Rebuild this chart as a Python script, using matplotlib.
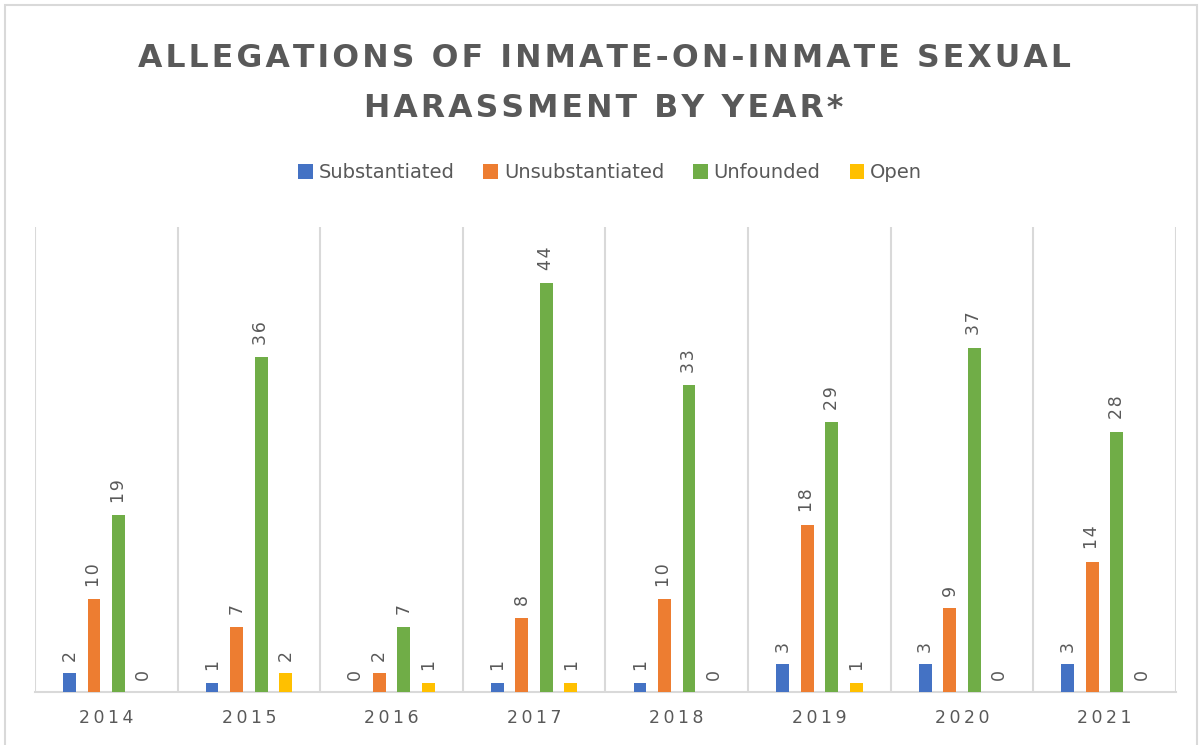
import numpy as np
import matplotlib
matplotlib.use('Agg')
import matplotlib.pyplot as plt
from matplotlib.patches import Rectangle

years = ['2014', '2015', '2016', '2017', '2018', '2019', '2020', '2021']
substantiated = [2, 1, 0, 1, 1, 3, 3, 3]
unsubstantiated = [10, 7, 2, 8, 10, 18, 9, 14]
unfounded = [19, 36, 7, 44, 33, 29, 37, 28]
open_cases = [0, 2, 1, 1, 0, 1, 0, 0]

series = [('Substantiated', substantiated, '#4472C4'),
          ('Unsubstantiated', unsubstantiated, '#ED7D31'),
          ('Unfounded', unfounded, '#70AD47'),
          ('Open', open_cases, '#FFC000')]

gray = '#595959'
grid = '#d9d9d9'

def spaced(s, sep='\u200a'):
    return sep.join(s)

fig = plt.figure(figsize=(12.01, 7.45), dpi=100)
ax = fig.add_axes([0.0291, 0.0711, 0.9500, 0.6242])

x = np.arange(len(years))
width = 0.09
step = 0.172
for i, (name, vals, col) in enumerate(series):
    pos = x + (i - 1.5) * step
    bars = ax.bar(pos, vals, width, color=col, label=name, zorder=3)
    for b, v in zip(bars, vals):
        ax.annotate(spaced(str(v)), (b.get_x() + b.get_width() / 2, v),
                    xytext=(0, 9), textcoords='offset points',
                    rotation=90, ha='center', va='bottom',
                    fontsize=12.5, color=gray)

ax.set_xlim(-0.5, len(years) - 0.5)
ax.set_ylim(0, 50)
ax.set_yticks([])
ax.set_xticks(x)
ax.set_xticklabels([spaced(y, '\u2009') for y in years], fontsize=12.5, color=gray)
ax.tick_params(axis='x', length=0, pad=12)
for b in np.arange(-0.5, len(years), 1):
    ax.axvline(b, color=grid, lw=1.5, zorder=1)
for s in ['top', 'left', 'right']:
    ax.spines[s].set_visible(False)
ax.spines['bottom'].set_color(grid)
ax.spines['bottom'].set_linewidth(1.5)

fig.text(0.503, 0.922, spaced('ALLEGATIONS OF INMATE-ON-INMATE SEXUAL'),
         ha='center', va='center', fontsize=22.7, fontweight='bold', color=gray)
fig.text(0.503, 0.855, spaced('HARASSMENT BY YEAR*'),
         ha='center', va='center', fontsize=22.7, fontweight='bold', color=gray)

fig.legend(loc='center', bbox_to_anchor=(0.508, 0.768), ncol=4, frameon=False,
           fontsize=14, labelcolor=gray, handlelength=0.75, handleheight=0.75,
           handletextpad=0.3, columnspacing=1.5)

fig.patches.append(Rectangle((0.004, -0.01), 0.993, 1.003, transform=fig.transFigure,
                             fill=False, edgecolor=grid, lw=1.5))

fig.savefig('out.png', dpi=100)
